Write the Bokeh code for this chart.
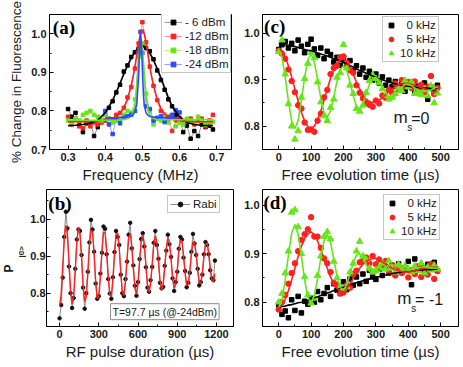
from bokeh.plotting import figure
from bokeh.layouts import column, row
from bokeh.models import Range1d, FixedTicker, Legend, LegendItem, Label, Title, PrintfTickFormatter
from bokeh.embed import file_html
from bokeh.resources import INLINE

# ---------------- data: panel (a) ----------------
freq_a = [0.30, 0.31, 0.32, 0.33, 0.34, 0.35, 0.36, 0.37, 0.38, 0.39,
          0.40, 0.41, 0.42, 0.43, 0.44, 0.45, 0.46, 0.47, 0.48, 0.49,
          0.50, 0.51, 0.52, 0.53, 0.54, 0.55, 0.56, 0.57, 0.58, 0.59,
          0.60, 0.61, 0.62, 0.63, 0.64, 0.65, 0.66, 0.67, 0.68, 0.69]
dbm6_a = [.805, .785, .795, .770, .745, .768, .770, .735, .758, .775,
          .790, .808, .825, .848, .868, .902, .918, .940, .952, .962,
          .970, .963, .955, .934, .905, .880, .855, .830, .812, .790,
          .780, .745, .762, .728, .748, .735, .765, .758, .762, .752]
dbm12_a = [.785, .765, .780, .760, .755, .775, .760, .770, .765, .770,
           .775, .780, .778, .790, .795, .808, .835, .862, .910, .975,
           1.030, .978, .915, .865, .828, .800, .790, .785, .748, .775,
           .782, .770, .776, .780, .765, .775, .780, .760, .775, .790]
dbm18_a = [.775, .770, .780, .775, .790, .795, .800, .790, .785, .775,
           .790, .780, .770, .775, .780, .790, .800, .795, .830, .940,
           .975, .845, .800, .765, .780, .775, .790, .770, .785, .760,
           .770, .765, .780, .775, .770, .785, .775, .765, .770, .772]
freq24_a = [0.40, 0.41, 0.42, 0.43, 0.44, 0.45, 0.46, 0.47, 0.48, 0.49, 0.495,
            0.50, 0.51, 0.52, 0.53, 0.54, 0.55, 0.56, 0.57, 0.58, 0.59, 0.60]
dbm24_a = [.800, .765, .740, .780, .768, .782, .786, .790, .800, .955, 1.005,
           .950, .812, .805, .775, .782, .786, .771, .781, .790, .802, .796]
fitx_a = [0.30, 0.32, 0.34, 0.36, 0.38, 0.40, 0.42, 0.43, 0.44, 0.45, 0.46, 0.47, 0.475,
          0.48, 0.485, 0.49, 0.4925, 0.495, 0.4975, 0.50, 0.5025, 0.505, 0.51, 0.515,
          0.52, 0.525, 0.53, 0.54, 0.55, 0.56, 0.57, 0.58, 0.60, 0.62, 0.64, 0.66, 0.68, 0.69]
fit6_a = [.762, .763, .765, .768, .776, .795, .828, .849, .872, .895, .917, .937, .945,
          .952, .960, .965, .967, .969, .970, .969, .968, .966, .962, .956,
          .949, .941, .932, .910, .886, .860, .835, .812, .785, .770, .765, .763, .762, .762]
fit12_a = [.772, .772, .772, .773, .774, .776, .781, .786, .794, .808, .830, .866, .889,
           .915, .945, .975, .988, .999, 1.007, 1.011, 1.008, 1.000, .977, .947,
           .915, .889, .866, .830, .806, .792, .784, .779, .775, .773, .772, .772, .772, .772]
fit18_a = [.776, .776, .776, .776, .776, .776, .776, .776, .777, .778, .780, .786, .795,
           .815, .858, .925, .958, .984, .985, .963, .930, .895, .840, .806,
           .790, .783, .780, .778, .777, .777, .777, .777, .777, .777, .777, .777, .777, .777]
fitx24_a = [0.40, 0.42, 0.43, 0.44, 0.45, 0.46, 0.47, 0.475, 0.48, 0.485, 0.49, 0.4925,
            0.495, 0.4975, 0.50, 0.5025, 0.505, 0.51, 0.515, 0.52, 0.525, 0.53, 0.54,
            0.55, 0.56, 0.57, 0.58, 0.60]
fit24_a = [.782, .782, .782, .783, .783, .784, .787, .790, .798, .818, .890, .960,
           1.000, .975, .910, .850, .815, .795, .789, .786, .785, .784, .783,
           .783, .782, .782, .782, .782]
labels_a = ["- 6 dBm", "-12 dBm", "-18 dBm", "-24 dBm"]

# ---------------- data: panel (b) ----------------
t_b = [0, 12, 24, 36, 48, 60, 72, 84, 96, 108, 120, 132, 144, 156, 168, 180, 192, 204, 216, 228,
       240, 252, 264, 276, 288, 300, 312, 324, 336, 348, 360, 372, 384, 396, 408, 420, 432, 444,
       456, 468, 480, 492, 504, 516, 528, 540, 552, 564, 576, 588, 600, 612, 624, 636, 648, 660,
       672, 684, 696, 708, 720, 732, 744, 756, 768, 780, 792, 804, 816, 828, 840, 852, 864, 876,
       888, 900, 912, 924, 936, 948, 960, 972, 984, 996, 1008, 1020, 1032, 1044, 1056, 1068,
       1080, 1092, 1104, 1116, 1128, 1140, 1152, 1164, 1176, 1188]
rabi_b = [.732, .768, .842, .952, 1.020, .975, .872, .800, .760, .787,
          .866, .945, .972, .968, .903, .815, .758, .800, .858, .937,
          .998, .972, .912, .826, .785, .792, .853, .909, .980, .974,
          .905, .838, .799, .785, .843, .911, .968, .952, .930, .850,
          .800, .792, .838, .885, .958, .990, .921, .875, .820, .793,
          .830, .892, .946, .962, .926, .870, .815, .804, .835, .871,
          .936, .968, .930, .893, .828, .813, .817, .874, .915, .958,
          .932, .898, .840, .806, .830, .858, .920, .952, .945, .896,
          .860, .816, .828, .855, .912, .960, .934, .903, .866, .821,
          .830, .850, .905, .938, .930, .905, .862, .840, .835, .888]
rabifit_b = [.765, .797, .872, .948, .983, .956, .884, .808, .771, .793,
             .861, .937, .978, .960, .896, .821, .778, .791, .852, .926,
             .971, .963, .906, .833, .786, .790, .843, .915, .964, .964,
             .915, .846, .795, .791, .836, .904, .956, .963, .922, .857,
             .804, .794, .831, .894, .948, .961, .929, .868, .814, .797,
             .826, .885, .939, .958, .933, .878, .824, .802, .824, .877,
             .930, .954, .936, .887, .834, .808, .823, .869, .921, .949,
             .938, .894, .844, .814, .823, .863, .913, .944, .939, .901,
             .853, .821, .824, .859, .905, .938, .938, .907, .862, .829,
             .826, .855, .898, .931, .936, .911, .870, .837, .830, .853]

# ---------------- data: panels (c) and (d) ----------------
t_cd = [0, 10, 20, 30, 40, 50, 60, 70, 80, 90, 100, 110, 120, 130, 140, 150, 160, 170, 180, 190,
        200, 210, 220, 230, 240, 250, 260, 270, 280, 290, 300, 310, 320, 330, 340, 350, 360, 370,
        380, 390, 400, 410, 420, 430, 440, 450, 460, 470, 480, 490]
labels_cd = ["\u20070 kHz", "\u20075 kHz", "10 kHz"]

k0_c = [.965, .975, .982, .968, .978, .962, .985, .972, .958, .976,
        .987, .966, .952, .968, .945, .961, .954, .938, .948, .931,
        .944, .928, .941, .919, .930, .912, .925, .905, .918, .899,
        .912, .893, .906, .888, .899, .885, .896, .879, .892, .875,
        .889, .894, .872, .886, .878, .893, .858, .884, .872, .888]
k5_c = [.962, .956, .945, .922, .897, .873, .845, .838, .808, .792,
        .793, .788, .812, .827, .862, .878, .912, .925, .930, .948,
        .950, .936, .920, .915, .888, .872, .860, .850, .846, .842,
        .855, .849, .866, .861, .878, .872, .892, .881, .899, .886,
        .895, .882, .896, .878, .889, .873, .885, .908, .869, .882]
k10_c = [.960, .985, .912, .848, .800, .772, .790, .862, .902, .935,
         .958, .947, .895, .852, .822, .812, .840, .858, .905, .915,
         .975, .925, .888, .870, .838, .832, .845, .872, .898, .910,
         .902, .893, .880, .866, .858, .862, .870, .882, .876, .898,
         .884, .895, .870, .873, .868, .880, .865, .887, .850, .871]
fit0_c = [.977, .976, .975, .974, .972, .971, .969, .967, .965, .963,
          .962, .960, .957, .955, .953, .951, .948, .945, .942, .940,
          .937, .934, .930, .927, .923, .920, .917, .914, .911, .908,
          .905, .902, .900, .897, .895, .893, .891, .889, .888, .887,
          .886, .885, .884, .883, .883, .882, .882, .881, .881, .881]
fit5_c = [.965, .961, .949, .930, .906, .880, .854, .830, .811, .799,
          .795, .800, .813, .832, .856, .880, .903, .922, .935, .943,
          .945, .938, .926, .911, .895, .880, .867, .858, .853, .851,
          .853, .856, .861, .868, .874, .880, .885, .889, .891, .892,
          .892, .890, .888, .886, .883, .880, .878, .876, .874, .874]
fit10_c = [.965, .949, .906, .854, .811, .795, .812, .855, .905, .943,
           .955, .938, .901, .860, .829, .820, .833, .863, .897, .922,
           .930, .920, .895, .865, .843, .835, .847, .869, .890, .903,
           .905, .899, .887, .873, .863, .860, .865, .875, .884, .890,
           .890, .887, .882, .878, .875, .874, .876, .878, .882, .884]

k0_d = [.795, .775, .782, .768, .805, .783, .812, .778, .802, .796,
        .808, .800, .822, .805, .818, .830, .812, .838, .825, .818,
        .842, .826, .848, .835, .852, .838, .858, .843, .866, .852,
        .847, .868, .855, .873, .860, .876, .858, .879, .862, .871,
        .884, .836, .889, .866, .874, .860, .878, .868, .882, .865]
k5_d = [.785, .800, .815, .838, .860, .880, .905, .928, .940, .950,
        .975, .935, .935, .912, .890, .880, .862, .840, .835, .818,
        .820, .835, .830, .858, .865, .882, .885, .892, .880, .895,
        .878, .888, .872, .885, .862, .876, .855, .872, .860, .868,
        .851, .866, .858, .874, .852, .869, .857, .878, .848, .864]
k10_d = [.800, .818, .860, .905, .985, .990, .955, .900, .852, .815,
         .798, .808, .855, .895, .935, .945, .930, .884, .850, .832,
         .828, .832, .862, .880, .905, .925, .895, .888, .870, .862,
         .866, .872, .880, .868, .885, .870, .862, .878, .866, .875,
         .868, .862, .874, .865, .880, .860, .872, .866, .876, .868]
fit0_d = [.790, .791, .792, .794, .795, .797, .799, .800, .802, .804,
          .806, .809, .811, .814, .816, .819, .821, .824, .826, .829,
          .831, .833, .836, .838, .840, .842, .844, .846, .848, .850,
          .852, .853, .855, .856, .858, .859, .860, .861, .862, .863,
          .864, .865, .865, .866, .866, .867, .867, .867, .868, .868]
fit5_d = [.790, .794, .806, .824, .846, .870, .894, .915, .931, .941,
          .945, .938, .926, .909, .889, .870, .852, .838, .829, .823,
          .822, .828, .838, .849, .860, .870, .878, .884, .888, .890,
          .890, .887, .883, .878, .874, .870, .867, .865, .863, .862,
          .862, .863, .865, .867, .868, .870, .871, .872, .872, .873]
fit10_d = [.790, .804, .844, .897, .942, .960, .940, .895, .846, .810,
           .800, .813, .848, .892, .927, .940, .923, .889, .853, .830,
           .825, .836, .858, .881, .897, .900, .891, .877, .864, .859,
           .860, .863, .868, .872, .876, .877, .875, .872, .869, .867,
           .866, .867, .869, .871, .872, .873, .872, .871, .870, .870]

# ---------------- style ----------------
SANS = "Liberation Sans"
SERIF = "Liberation Serif"
TXT = "#1a1a1a"
RED = "#ff2020"
GREEN = "#66e61a"
BLUE = "#2a4cff"


def make_fig(w, h, xr, yr, bl, br, bt, bb):
    p = figure(width=w, height=h, x_range=Range1d(*xr), y_range=Range1d(*yr),
               output_backend="svg", toolbar_location=None,
               min_border_left=bl, min_border_right=br, min_border_top=bt, min_border_bottom=bb)
    p.grid.visible = False
    p.outline_line_color = "black"
    p.outline_line_width = 1
    p.background_fill_color = "white"
    p.border_fill_color = "white"
    return p


def style_axes(p, xt, xm, yt, ym, xlabel, ylabel=None, xdec=False):
    p.xaxis.ticker = FixedTicker(ticks=xt, minor_ticks=xm)
    p.yaxis.ticker = FixedTicker(ticks=yt, minor_ticks=ym)
    p.yaxis.formatter = PrintfTickFormatter(format="%.1f")
    if xdec:
        p.xaxis.formatter = PrintfTickFormatter(format="%.1f")
    for ax in list(p.xaxis) + list(p.yaxis):
        ax.major_tick_in = 4
        ax.major_tick_out = 0
        ax.minor_tick_in = 2
        ax.minor_tick_out = 0
        ax.axis_line_color = "black"
        ax.major_tick_line_color = "black"
        ax.minor_tick_line_color = "black"
        ax.major_label_text_font = SANS
        ax.major_label_text_font_style = "bold"
        ax.major_label_text_font_size = "11px"
        ax.major_label_text_color = TXT
        ax.major_label_standoff = 3
        ax.axis_label_text_font = SANS
        ax.axis_label_text_font_style = "normal"
        ax.axis_label_text_color = TXT
    p.xaxis.axis_label = xlabel
    p.xaxis.axis_label_text_font_size = "15px"
    p.xaxis.axis_label_standoff = 2
    if ylabel:
        p.yaxis.axis_label = ylabel
        p.yaxis.axis_label_text_font_size = "13.5px"
        p.yaxis.axis_label_standoff = 4


def add_legend(p, items, loc, glyph_w):
    lg = Legend(items=items, location=loc, orientation="vertical")
    lg.border_line_color = "#8c8c8c"
    lg.border_line_width = 1
    lg.background_fill_color = "white"
    lg.background_fill_alpha = 1
    lg.label_text_font = SANS
    lg.label_text_font_size = "11.5px"
    lg.label_text_color = TXT
    lg.label_height = 12
    lg.glyph_height = 12
    lg.glyph_width = glyph_w
    lg.label_standoff = 3
    lg.spacing = 2
    lg.padding = 2
    lg.margin = 0
    p.add_layout(lg)


def panel_label(p, x, y, text):
    p.add_layout(Label(x=x, y=y, text=text, text_font=SERIF, text_font_style="bold",
                       text_font_size="19px", text_baseline="top", text_align="left",
                       text_color="black"))


# ---------------- panel (a) ----------------
pa = make_fig(240, 185, (0.25, 0.74), (0.70, 1.05), 49, 9, 14, 34)
style_axes(pa, [0.3, 0.4, 0.5, 0.6, 0.7], [0.35, 0.45, 0.55, 0.65],
           [0.7, 0.8, 0.9, 1.0], [0.75, 0.85, 0.95],
           "Frequency (MHz)", "% Change in Fluorescence", xdec=True)
items_a = []
series_a = [(freq_a, dbm6_a, fitx_a, fit6_a, "black", "#9a9a9a"),
            (freq_a, dbm12_a, fitx_a, fit12_a, RED, "#f39a9a"),
            (freq_a, dbm18_a, fitx_a, fit18_a, GREEN, "#b5f08a"),
            (freq24_a, dbm24_a, fitx24_a, fit24_a, BLUE, "#95a5ff")]
fits_a = []
for (xs, ys, fx, fy, col, light), lab in zip(series_a, labels_a):
    ln = pa.line(xs, ys, line_color=light, line_width=1)
    pts = pa.scatter(xs, ys, marker="square", size=3.5, fill_color=col, line_color=col)
    items_a.append(LegendItem(label=lab, renderers=[ln, pts]))
    fits_a.append((fx, fy, col))
for fx, fy, col in fits_a:
    pa.line(fx, fy, line_color=col, line_width=1.6)
add_legend(pa, items_a, (112, 76), 18)
panel_label(pa, 0.259, 1.044, "(a)")

# ---------------- panel (c) ----------------
pc = make_fig(222, 185, (-50, 555), (0.75, 1.04), 22, 4, 14, 34)
style_axes(pc, [0, 100, 200, 300, 400, 500], [50, 150, 250, 350, 450],
           [0.8, 0.9, 1.0], [0.75, 0.85, 0.95], "Free evolution time (µs)")
s0c = pc.scatter(t_cd, k0_c, marker="square", size=4.5, fill_color="black", line_color="black")
s5c = pc.scatter(t_cd, k5_c, marker="circle", size=5.5, fill_color=RED, line_color=RED)
s10c = pc.scatter(t_cd, k10_c, marker="triangle", size=6.5, fill_color=GREEN, line_color=GREEN)
pc.line(t_cd, fit0_c, line_color="black", line_width=1.6)
pc.line(t_cd, fit5_c, line_color=RED, line_width=1.6)
pc.line(t_cd, fit10_c, line_color=GREEN, line_width=1.6)
add_legend(pc, [LegendItem(label=labels_cd[0], renderers=[s0c]),
                LegendItem(label=labels_cd[1], renderers=[s5c]),
                LegendItem(label=labels_cd[2], renderers=[s10c])], (120, 87), 12)
panel_label(pc, -45, 1.037, "(c)")
pc.add_layout(Label(x=354, y=0.798, text="m", text_font=SANS, text_font_size="17px", text_color=TXT))
pc.add_layout(Label(x=397, y=0.786, text="s", text_font=SANS, text_font_size="10px", text_color=TXT))
pc.add_layout(Label(x=409, y=0.798, text="=0", text_font=SANS, text_font_size="16px", text_color=TXT))

# ---------------- panel (b) ----------------
pb = make_fig(240, 181, (-100, 1330), (0.71, 1.08), 46, 7, 4, 40)
style_axes(pb, [0, 300, 600, 900, 1200], [150, 450, 750, 1050],
           [0.8, 0.9, 1.0], [0.75, 0.85, 0.95, 1.05], "RF pulse duration (µs)")
pb.yaxis.major_label_standoff = 1
# y-axis title: P with subscript |0>, as two titles in the left panel
pb.add_layout(Title(text="|0>", align="left", offset=69, standoff=0, vertical_align="top",
                    text_font=SANS, text_font_style="bold", text_font_size="8px",
                    text_color=TXT), "left")
pb.add_layout(Title(text="P", align="left", offset=54, standoff=0, vertical_align="middle",
                    text_font=SANS, text_font_style="bold", text_font_size="12px",
                    text_color=TXT), "left")
lb = pb.line(t_b, rabi_b, line_color="#8a8a8a", line_width=1)
sb = pb.scatter(t_b, rabi_b, marker="circle", size=3.5, fill_color="#111111", line_color="#111111")
pb.line(t_b, rabifit_b, line_color=RED, line_width=1.4)
add_legend(pb, [LegendItem(label="Rabi", renderers=[lb, sb])], (121, 113), 20)
panel_label(pb, -86, 1.071, "(b)")
pb.add_layout(Label(x=390, y=0.75, text="T=97.7 µs (@-24dBm)", text_font=SANS,
                    text_font_size="10.5px", text_color=TXT, text_baseline="middle",
                    border_line_color="#8c8c8c", background_fill_color="white", padding=2))

# ---------------- panel (d) ----------------
pd_ = make_fig(222, 181, (-50, 555), (0.75, 1.032), 22, 4, 4, 40)
style_axes(pd_, [0, 100, 200, 300, 400, 500], [50, 150, 250, 350, 450],
           [0.8, 0.9, 1.0], [0.75, 0.85, 0.95], "Free evolution time (µs)")
s0d = pd_.scatter(t_cd, k0_d, marker="square", size=4.5, fill_color="black", line_color="black")
s5d = pd_.scatter(t_cd, k5_d, marker="circle", size=5.5, fill_color=RED, line_color=RED)
s10d = pd_.scatter(t_cd, k10_d, marker="triangle", size=6.5, fill_color=GREEN, line_color=GREEN)
pd_.line(t_cd, fit0_d, line_color="black", line_width=1.6)
pd_.line(t_cd, fit5_d, line_color=RED, line_width=1.6)
pd_.line(t_cd, fit10_d, line_color=GREEN, line_width=1.6)
add_legend(pd_, [LegendItem(label=labels_cd[0], renderers=[s0d]),
                 LegendItem(label=labels_cd[1], renderers=[s5d]),
                 LegendItem(label=labels_cd[2], renderers=[s10d])], (121, 86), 12)
panel_label(pd_, -47, 1.026, "(d)")
pd_.add_layout(Label(x=366, y=0.788, text="m", text_font=SANS, text_font_size="17px", text_color=TXT))
pd_.add_layout(Label(x=409, y=0.776, text="s", text_font=SANS, text_font_size="10px", text_color=TXT))
pd_.add_layout(Label(x=421, y=0.788, text="= -1", text_font=SANS, text_font_size="16px", text_color=TXT))

layout = column(row(pa, pc), row(pb, pd_))
open("out.html", "w").write(file_html(layout, INLINE))
